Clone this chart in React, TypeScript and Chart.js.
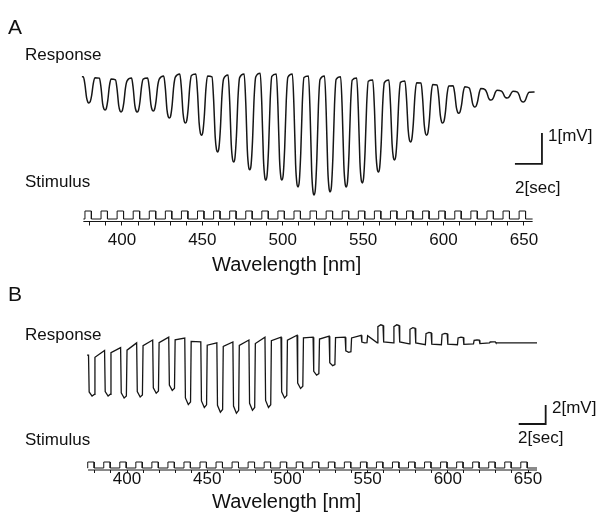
import React, { useEffect, useRef } from 'react';
import { Chart, registerables } from 'chart.js';
Chart.register(...registerables);

// ---- data ----
const WAVELENGTHS = [380, 390, 400, 410, 420, 430, 440, 450, 460, 470, 480, 490, 500, 510, 520, 530, 540, 550, 560, 570, 580, 590, 600, 610, 620, 630, 640, 650];
const TICK_LABELS = [400, 450, 500, 550, 600, 650];

// Panel A: membrane level between flashes (rest) and at response extreme (peak), mV
const A_REST_MV = [-0.06, -0.10, -0.16, -0.10, -0.10, -0.03, 0.03, 0.03, -0.06, 0.0, 0.03, 0.06, 0.03, 0.03, -0.03, -0.03, -0.06, -0.10, -0.16, -0.16, -0.19, -0.26, -0.32, -0.35, -0.42, -0.48, -0.52, -0.55];
const A_PEAK_MV = [-0.90, -1.13, -1.19, -1.19, -1.16, -1.39, -1.55, -1.94, -2.48, -2.81, -3.06, -3.39, -3.39, -3.61, -3.87, -3.77, -3.61, -3.48, -3.13, -2.74, -2.16, -1.94, -1.55, -1.23, -1.03, -0.81, -0.74, -0.87];

// Panel B
const B_REST_MV = [-1.6, -1.1, -0.8, -0.3, 0.0, 0.3, 0.2, -0.2, -0.3, -0.2, 0.0, 0.3, 0.3, 0.5, 0.3, 0.4, 0.3, 0.5, -0.3, -0.3, -0.4, -0.5, -0.5, -0.5, -0.4, -0.3, -0.3, -0.3];
const B_PEAK_MV = [-5.9, -5.9, -6.1, -6.0, -5.6, -5.3, -6.8, -7.1, -7.6, -7.7, -7.4, -7.1, -6.1, -5.1, -3.7, -2.7, -1.3, -0.3, 1.6, 1.6, 1.3, 0.8, 0.7, 0.3, 0.0, -0.2, -0.3, -0.3];

const STIM_OFF = 0;
const STIM_ON = 1;
const NM_PER_SEC = 8.4; // time base of the recording expressed on the wavelength axis

const FONT = '"Liberation Sans", Arial, Helvetica, sans-serif';
const INK = '#161616';

type Pt = { x: number; y: number };

function buildResponse(rest: number[], peak: number[], shape: number[][], start: number, end: number): Pt[] {
  const pts: Pt[] = [{ x: start, y: rest[0] }];
  WAVELENGTHS.forEach((w, i) => {
    shape.forEach(([dx, f]) => pts.push({ x: w + dx, y: rest[i] + f * (peak[i] - rest[i]) }));
  });
  pts.push({ x: end, y: rest[rest.length - 1] });
  return pts;
}

function buildStimulus(on: number, off: number, start: number, end: number): Pt[] {
  const pts: Pt[] = [{ x: start, y: STIM_OFF }];
  WAVELENGTHS.forEach((w) => {
    pts.push({ x: w + on, y: STIM_OFF }, { x: w + on, y: STIM_ON }, { x: w + off, y: STIM_ON }, { x: w + off, y: STIM_OFF });
  });
  pts.push({ x: end, y: STIM_OFF });
  return pts;
}

interface PanelCfg {
  rest: number[];
  peak: number[];
  shape: number[][];
  smooth: boolean;
  lineWidth: number;
  respStart: number;
  respEnd: number;
  stimOn: number;
  stimOff: number;
  stimStart: number;
  stimEnd: number;
  padLeft: number;
  padRight: number;
  padTop: number;
  height: number;
  axisHeight: number;
  yMin: number;
  yMax: number;
  sMin: number;
  sMax: number;
  tickPad: number;
  tickLen: number;
  bar: { x: number; y: number; mV: number; sec: number };
}

const PANEL_A: PanelCfg = {
  rest: A_REST_MV,
  peak: A_PEAK_MV,
  shape: [[-4, 0], [-3, 0.3], [-2, 0.8], [-1.2, 0.97], [-0.5, 1], [0.3, 0.95], [1.2, 0.7], [2.2, 0.25], [3.2, 0.03]],
  smooth: true,
  lineWidth: 1.5,
  respStart: 375.1,
  respEnd: 656.6,
  stimOn: -3,
  stimOff: 1,
  stimStart: 376,
  stimEnd: 655.4,
  padLeft: 73.7,
  padRight: 45.9,
  padTop: 60,
  height: 280,
  axisHeight: 58.5,
  yMin: -4.726,
  yMax: 0.484,
  sMin: -0.3125,
  sMax: 19.875,
  tickPad: 6.5,
  tickLen: 4,
  bar: { x: 661.2, y: -2.87, mV: 1, sec: 2 },
};

const PANEL_B: PanelCfg = {
  rest: B_REST_MV,
  peak: B_PEAK_MV,
  shape: [[-4, 0], [-3.6, 0.9], [-1.8, 1], [-0.4, 0.96], [0, 0.05]],
  smooth: false,
  lineWidth: 1.3,
  respStart: 375.1,
  respEnd: 655.6,
  stimOn: -4.5,
  stimOff: -0.5,
  stimStart: 375.7,
  stimEnd: 655.6,
  padLeft: 78.9,
  padRight: 41.9,
  padTop: 20,
  height: 238,
  axisHeight: 48,
  yMin: -13.68,
  yMax: 4.21,
  sMin: -0.333,
  sMax: 28,
  tickPad: -2.5,
  tickLen: 3,
  bar: { x: 661.0, y: -8.84, mV: 2, sec: 2 },
};

function Panel({ cfg, top }: { cfg: PanelCfg; top: number }) {
  const ref = useRef<HTMLCanvasElement | null>(null);
  useEffect(() => {
    if (!ref.current) return;
    const b = cfg.bar;
    const chart = new Chart(ref.current, {
      type: 'line',
      data: {
        datasets: [
          {
            label: 'Response',
            data: buildResponse(cfg.rest, cfg.peak, cfg.shape, cfg.respStart, cfg.respEnd),
            yAxisID: 'y',
            borderColor: INK,
            borderWidth: cfg.lineWidth,
            pointRadius: 0,
            cubicInterpolationMode: cfg.smooth ? 'monotone' : 'default',
            tension: 0,
            clip: false,
          },
          {
            label: 'Stimulus',
            data: buildStimulus(cfg.stimOn, cfg.stimOff, cfg.stimStart, cfg.stimEnd),
            yAxisID: 'ys',
            borderColor: INK,
            borderWidth: 1,
            pointRadius: 0,
            tension: 0,
            clip: false,
          },
          {
            label: 'axis',
            data: [{ x: cfg.stimStart, y: cfg.sMin }, { x: cfg.stimEnd, y: cfg.sMin }],
            yAxisID: 'ys',
            borderColor: INK,
            borderWidth: 1,
            pointRadius: 0,
            clip: false,
          },
          {
            label: 'scale bar',
            data: [
              { x: b.x - b.sec * NM_PER_SEC, y: b.y },
              { x: b.x, y: b.y },
              { x: b.x, y: b.y + b.mV },
            ],
            yAxisID: 'y',
            borderColor: INK,
            borderWidth: 1.8,
            pointRadius: 0,
            clip: false,
          },
        ],
      },
      options: {
        animation: false,
        responsive: false,
        devicePixelRatio: 1,
        layout: { padding: { left: cfg.padLeft, right: cfg.padRight, top: cfg.padTop, bottom: 0 } },
        plugins: { legend: { display: false }, tooltip: { enabled: false } },
        scales: {
          x: {
            type: 'linear',
            min: 370,
            max: 670,
            afterBuildTicks: (s: any) => {
              s.ticks = WAVELENGTHS.map((v) => ({ value: v }));
            },
            afterFit: (s: any) => {
              s.height = cfg.axisHeight;
            },
            ticks: {
              autoSkip: false,
              maxRotation: 0,
              padding: cfg.tickPad,
              color: '#111',
              font: { family: FONT, size: 17, lineHeight: 1 },
              callback: (v: any) => (TICK_LABELS.includes(Number(v)) ? String(v) : ''),
            },
            grid: { display: true, drawOnChartArea: false, drawTicks: true, tickLength: cfg.tickLen, color: INK, lineWidth: 1 },
            border: { display: false },
          },
          y: { type: 'linear', display: false, min: cfg.yMin, max: cfg.yMax },
          ys: { type: 'linear', display: false, min: cfg.sMin, max: cfg.sMax },
        },
      },
    } as any);
    return () => chart.destroy();
  }, [cfg]);
  return (
    <canvas
      ref={ref}
      width={602}
      height={cfg.height}
      style={{ position: 'absolute', left: 0, top, width: 602, height: cfg.height }}
    />
  );
}

function T({ x, y, size, children }: { x: number; y: number; size: number; children: React.ReactNode }) {
  return (
    <div
      style={{
        position: 'absolute',
        left: x,
        top: y,
        fontSize: size,
        lineHeight: 1,
        fontFamily: FONT,
        color: '#111',
        whiteSpace: 'nowrap',
      }}
    >
      {children}
    </div>
  );
}

export default function App() {
  return (
    <div style={{ position: 'fixed', left: 0, top: 0, width: 602, height: 518, background: '#fff', overflow: 'hidden' }}>
      <Panel cfg={PANEL_A} top={0} />
      <Panel cfg={PANEL_B} top={280} />
      <T x={8} y={15.8} size={21}>A</T>
      <T x={25} y={45.8} size={17}>Response</T>
      <T x={25} y={172.8} size={17}>Stimulus</T>
      <T x={548} y={126.8} size={17}>1[mV]</T>
      <T x={515} y={178.8} size={17}>2[sec]</T>
      <T x={212} y={254.4} size={20}>Wavelength [nm]</T>
      <T x={8} y={283} size={21}>B</T>
      <T x={25} y={326.3} size={17}>Response</T>
      <T x={25} y={431} size={17}>Stimulus</T>
      <T x={552} y={399} size={17}>2[mV]</T>
      <T x={518} y={429} size={17}>2[sec]</T>
      <T x={212} y={491.4} size={20}>Wavelength [nm]</T>
    </div>
  );
}
